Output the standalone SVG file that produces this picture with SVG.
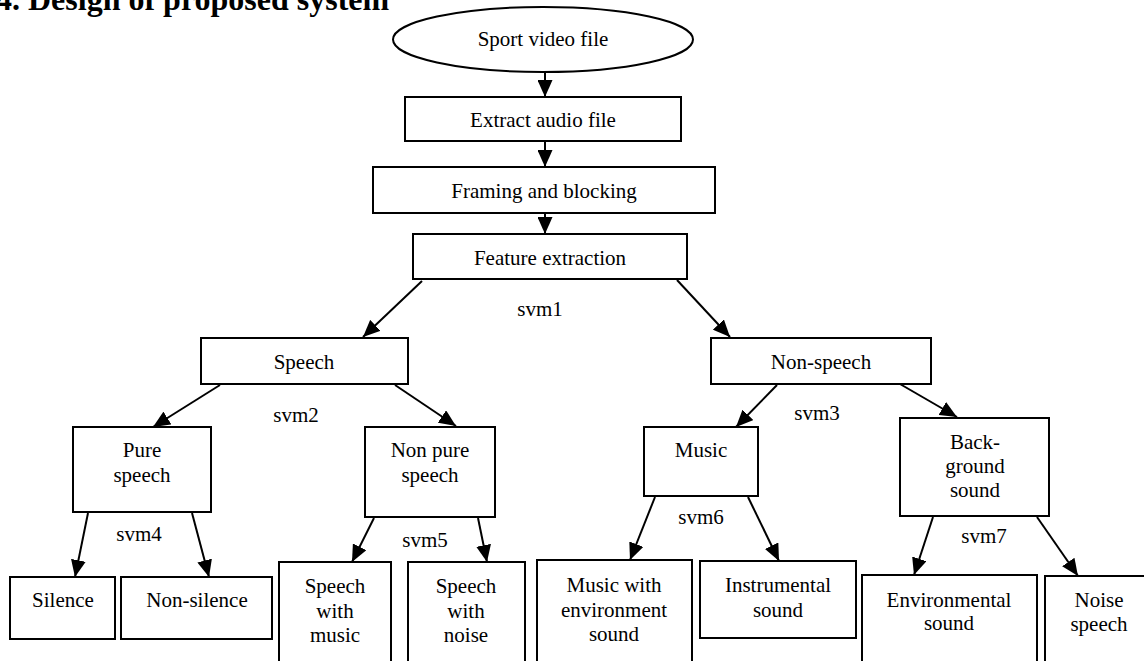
<svg xmlns="http://www.w3.org/2000/svg" width="1144" height="661" viewBox="0 0 1144 661">
<style>
.box{fill:#fff;stroke:#000;stroke-width:2}
.t{font-family:"Liberation Serif","Times New Roman",serif;font-size:21px;fill:#000;text-anchor:middle}
.title{font-family:"Liberation Serif","Times New Roman",serif;font-size:32px;font-weight:bold;fill:#000}
.c line{stroke:#000;stroke-width:2;marker-end:url(#ah)}
</style>
<defs>
<marker id="ah" markerUnits="userSpaceOnUse" markerWidth="18" markerHeight="15" refX="17" refY="7.5" orient="auto">
<path d="M0,0 L17,7.5 L0,15 z" fill="#000"/>
</marker>
</defs>
<rect width="1144" height="661" fill="#fff"/>
<text class="title" x="-4" y="10">4. Design of proposed system</text>

<g class="c" id="connectors">
<line x1="545" y1="72" x2="545" y2="97"/>
<line x1="545" y1="141" x2="545" y2="167"/>
<line x1="545" y1="213" x2="545" y2="234"/>
<line x1="422" y1="281" x2="363" y2="337"/>
<line x1="677" y1="280" x2="730" y2="337"/>
<line x1="220" y1="385" x2="153" y2="427"/>
<line x1="395" y1="385" x2="456" y2="426"/>
<line x1="777" y1="385" x2="736" y2="427"/>
<line x1="900" y1="384" x2="957" y2="417"/>
<line x1="88" y1="513" x2="75" y2="577"/>
<line x1="192" y1="513" x2="209" y2="577"/>
<line x1="374" y1="518" x2="352" y2="562"/>
<line x1="478" y1="518" x2="487" y2="562"/>
<line x1="655" y1="497" x2="630" y2="560"/>
<line x1="748" y1="497" x2="779" y2="561"/>
<line x1="933" y1="517" x2="914" y2="575"/>
<line x1="1037" y1="517" x2="1078" y2="576"/>
</g>

<g id="sport">
<ellipse class="box" cx="543" cy="39.5" rx="150" ry="32.5"/>
<text class="t" x="543" y="46">Sport video file</text>
</g>
<g id="extract">
<rect class="box" x="405" y="97" width="276" height="44"/>
<text class="t" x="543" y="127">Extract audio file</text>
</g>
<g id="framing">
<rect class="box" x="373" y="167" width="342" height="46"/>
<text class="t" x="544" y="198">Framing and blocking</text>
</g>
<g id="feature">
<rect class="box" x="413" y="234" width="274" height="45"/>
<text class="t" x="550" y="265">Feature extraction</text>
</g>
<g id="svm1"><text class="t" x="540" y="316">svm1</text></g>

<g id="speech">
<rect class="box" x="201" y="338" width="207" height="46"/>
<text class="t" x="304" y="369">Speech</text>
</g>
<g id="nonspeech">
<rect class="box" x="711" y="338" width="220" height="46"/>
<text class="t" x="821" y="369">Non-speech</text>
</g>
<g id="svm2"><text class="t" x="296" y="422">svm2</text></g>
<g id="svm3"><text class="t" x="817" y="420">svm3</text></g>

<g id="pure">
<rect class="box" x="73" y="427" width="138" height="85"/>
<text class="t" x="142" y="457">Pure</text>
<text class="t" x="142" y="482">speech</text>
</g>
<g id="nonpure">
<rect class="box" x="365" y="427" width="130" height="90"/>
<text class="t" x="430" y="457">Non pure</text>
<text class="t" x="430" y="482">speech</text>
</g>
<g id="music">
<rect class="box" x="644" y="427" width="114" height="69"/>
<text class="t" x="701" y="457">Music</text>
</g>
<g id="background">
<rect class="box" x="900" y="418" width="149" height="98"/>
<text class="t" x="975" y="449">Back-</text>
<text class="t" x="975" y="473">ground</text>
<text class="t" x="975" y="497">sound</text>
</g>

<g id="svm4"><text class="t" x="139" y="541">svm4</text></g>
<g id="svm5"><text class="t" x="425" y="547">svm5</text></g>
<g id="svm6"><text class="t" x="701" y="524">svm6</text></g>
<g id="svm7"><text class="t" x="984" y="543">svm7</text></g>

<g id="silence">
<rect class="box" x="10" y="577" width="105" height="62"/>
<text class="t" x="63" y="607">Silence</text>
</g>
<g id="nonsilence">
<rect class="box" x="121" y="577" width="151" height="62"/>
<text class="t" x="197" y="607">Non-silence</text>
</g>
<g id="speechmusic">
<rect class="box" x="279" y="562" width="112" height="120"/>
<text class="t" x="335" y="593">Speech</text>
<text class="t" x="335" y="618">with</text>
<text class="t" x="335" y="642">music</text>
</g>
<g id="speechnoise">
<rect class="box" x="408" y="562" width="117" height="120"/>
<text class="t" x="466" y="593">Speech</text>
<text class="t" x="466" y="618">with</text>
<text class="t" x="466" y="642">noise</text>
</g>
<g id="musicenv">
<rect class="box" x="537" y="560" width="155" height="120"/>
<text class="t" x="614" y="592">Music with</text>
<text class="t" x="614" y="617">environment</text>
<text class="t" x="614" y="641">sound</text>
</g>
<g id="instrumental">
<rect class="box" x="700" y="561" width="156" height="77"/>
<text class="t" x="778" y="592">Instrumental</text>
<text class="t" x="778" y="617">sound</text>
</g>
<g id="environmental">
<rect class="box" x="862" y="575" width="175" height="110"/>
<text class="t" x="949" y="607">Environmental</text>
<text class="t" x="949" y="630">sound</text>
</g>
<g id="noisespeech">
<rect class="box" x="1045" y="576" width="110" height="110"/>
<text class="t" x="1099" y="607">Noise</text>
<text class="t" x="1099" y="631">speech</text>
</g>
</svg>
